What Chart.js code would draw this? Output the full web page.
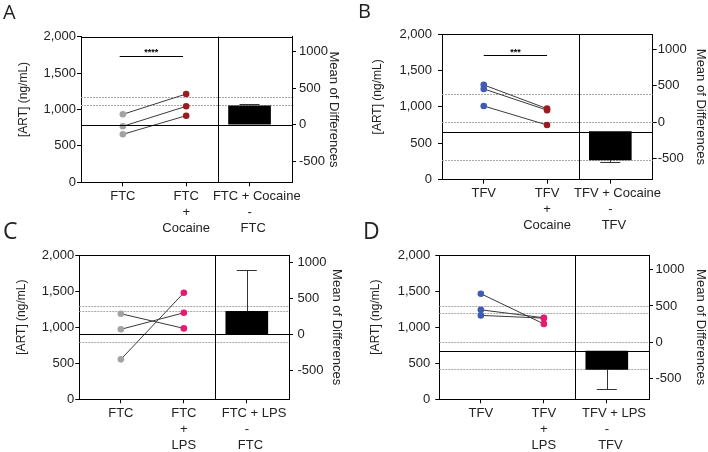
<!DOCTYPE html>
<html>
<head>
<meta charset="utf-8">
<script src="https://cdn.jsdelivr.net/npm/chart.js@4/dist/chart.umd.min.js"></script>
<style>
html, body { margin: 0; padding: 0; background: #fff; }
#wrap { position: relative; width: 708px; height: 452px; overflow: hidden; }
canvas { position: absolute; }
.tag { position: absolute; font-family: "Open Sans", sans-serif; color: #222; line-height: 1; }
</style>
</head>
<body>
<div id="wrap">
  <canvas id="cA" width="354" height="240" style="left:0;top:0"></canvas>
  <canvas id="cB" width="354" height="240" style="left:354px;top:0"></canvas>
  <canvas id="cC" width="354" height="226" style="left:0;top:226px"></canvas>
  <canvas id="cD" width="354" height="226" style="left:354px;top:226px"></canvas>
  <div class="tag" style="left:3px;top:2px;font-size:20px">A</div>
  <div class="tag" style="left:358px;top:1px;font-size:20px">B</div>
  <div class="tag" style="left:3px;top:219px;font-size:23px">C</div>
  <div class="tag" style="left:363px;top:219px;font-size:23px">D</div>
</div>
<script>
// 資料 start↓↓------------------------------------
const xTicks = [1, 2, 3];//左組, 右組, 差值
const leftTicks = [0, 500, 1000, 1500, 2000];
const rightTicks = [-500, 0, 500, 1000];

// A: FTC vs FTC + Cocaine
const aLabels = ['FTC', ['FTC', '+', 'Cocaine'], ['    FTC + Cocaine', '-', '  FTC']];
const aFirst = [934, 769, 659];
const aSecond = [1213, 1044, 915];
const aZero = 791;//右軸 0 對應的左軸值
const aBar = [0, 261];//平均差 (右軸)
const aErr = 280;
const aRefs = [1176, 1058];
const aSig = ['****', 1735];
const aSigX = [0.95, 1.95];

// B: TFV vs TFV + Cocaine
const bLabels = ['TFV', ['TFV', '+', 'Cocaine'], ['    TFV + Cocaine', '-', '  TFV']];
const bFirst = [1301, 1246, 1012];
const bSecond = [975, 955, 751];
const bZero = 788;
const bBar = [-129, -517];
const bErr = -549;
const bRefs = [1181, 788, 271];
const bSig = ['***', 1709];
const bSigX = [1, 2];

// C: FTC vs FTC + LPS
const cLabels = ['FTC', ['FTC', '+', 'LPS'], ['    FTC + LPS', '-', '  FTC']];
const cFirst = [1186, 970, 554];
const cSecond = [983, 1199, 1476];
const cZero = 900;
const cBar = [0, 319];
const cErr = 887;
const cRefs = [1296, 1219, 789];

// D: TFV vs TFV + LPS
const dLabels = ['TFV', ['TFV', '+', 'LPS'], ['    TFV + LPS', '-', '  TFV']];
const dFirst = [1463, 1240, 1163];
const dSecond = [1045, 1130, 1125];
const dZero = 794;
const dBar = [-125, -379];
const dErr = -655;
const dRefs = [1292, 1195, 794, 415];
// 資料 end↑↑------------------------------------

const gray = '#a3a3a3', darkRed = '#9b1b1f', blue = '#3f5bb3', pink = '#e8196f';

Chart.defaults.font.family = '"Liberation Sans", Arial, sans-serif';
Chart.defaults.color = '#222';

function hline(ctx, x0, x1, y) {
    y = Math.round(y) + 0.5;
    ctx.beginPath(); ctx.moveTo(x0, y); ctx.lineTo(x1, y); ctx.stroke();
}
function vline(ctx, x, y0, y1) {
    x = Math.round(x) + 0.5;
    ctx.beginPath(); ctx.moveTo(x, y0); ctx.lineTo(x, y1); ctx.stroke();
}

//參考線、分隔線、誤差線、顯著性
function extrasFor(p) {
    return {
        id: 'extras',
        beforeDatasetsDraw(chart) {
            const { ctx, chartArea: a, scales } = chart;
            ctx.save();
            ctx.lineWidth = 1;
            ctx.strokeStyle = '#a8a8a8';
            ctx.setLineDash([2, 1]);
            p.refs.forEach(v => hline(ctx, a.left, a.right, scales.y.getPixelForValue(v)));
            ctx.setLineDash([]);
            ctx.strokeStyle = '#000';
            hline(ctx, a.left, a.right, a.top);
            vline(ctx, scales.x.getPixelForValue(2.5), a.top, a.bottom);
            ctx.restore();
        },
        afterDatasetsDraw(chart) {
            const { ctx, chartArea: a, scales } = chart;
            const y2 = scales.y2, x = scales.x;
            ctx.save();
            ctx.lineWidth = 1;
            ctx.strokeStyle = '#000';
            hline(ctx, a.left, a.right, y2.getPixelForValue(p.bar[0]));
            //誤差線
            const px = x.getPixelForValue(3);
            const e1 = y2.getPixelForValue(p.err);
            ctx.strokeStyle = '#333';
            vline(ctx, px, y2.getPixelForValue(p.bar[1]), e1);
            hline(ctx, px - 10, px + 10, e1);
            //顯著性
            if (p.sig) {
                const sy = scales.y.getPixelForValue(p.sig[1]);
                ctx.strokeStyle = '#000';
                hline(ctx, x.getPixelForValue(p.sigX[0]), x.getPixelForValue(p.sigX[1]), sy);
                ctx.fillStyle = '#000';
                ctx.font = 'bold 9px "Liberation Sans", Arial, sans-serif';
                ctx.textAlign = 'center';
                ctx.textBaseline = 'middle';
                ctx.fillText(p.sig[0], x.getPixelForValue((p.sigX[0] + p.sigX[1]) / 2), sy - 3);
            }
            ctx.restore();
        }
    };
}

function makePanel(id, p, lay) {
    const datasets = p.first.map((v, i) => ({
        type: 'line',
        data: [{ x: 1, y: v }, { x: 2, y: p.second[i] }],
        yAxisID: 'y',
        borderColor: '#3a3a3a',
        borderWidth: 1,
        pointRadius: 3.3,
        pointBorderWidth: 0,
        pointBackgroundColor: p.colors,
        pointBorderColor: p.colors,
    }));
    datasets.push({
        type: 'bar',
        data: [{ x: 3, y: p.bar }],
        yAxisID: 'y2',
        backgroundColor: '#000',
        borderWidth: 0,
        barThickness: 42,
    });

    const tickFont = { size: 13, lineHeight: 1.23 };
    new Chart(document.getElementById(id), {
        type: 'line',
        data: { datasets },
        options: {
            responsive: false,
            animation: false,
            devicePixelRatio: 1,
            layout: { padding: { left: lay.pL, right: lay.pR, top: lay.pT, bottom: 0 } },
            plugins: { legend: { display: false }, tooltip: { enabled: false } },
            scales: {
                x: {
                    type: 'linear',
                    min: 0.34,
                    max: 3.67,
                    offset: false,
                    afterBuildTicks: s => { s.ticks = xTicks.map(v => ({ value: v })); },
                    afterFit: s => { s.height = lay.hB; s.paddingLeft = 0; s.paddingRight = 0; },
                    ticks: {
                        autoSkip: false, maxRotation: 0, minRotation: 0, padding: 2,
                        font: tickFont, color: '#222',
                        callback: (v, i) => p.labels[i],
                    },
                    grid: { drawOnChartArea: false, drawTicks: true, tickLength: 4, color: '#000', offset: false },
                    border: { display: true, color: '#000', width: 1 },
                },
                y: {
                    position: 'left',
                    min: 0,
                    max: 2000,
                    afterBuildTicks: s => { s.ticks = leftTicks.map(v => ({ value: v })); },
                    afterFit: s => { s.width = lay.wL; },
                    ticks: {
                        padding: lay.lPad, font: tickFont, color: '#222',
                        callback: v => v.toLocaleString('en-US'),
                    },
                    grid: { drawOnChartArea: false, drawTicks: true, tickLength: 4, color: '#000' },
                    border: { display: true, color: '#000', width: 1 },
                    title: {
                        display: true, text: '      [ART] (ng/mL)', padding: 0,
                        font: { size: 12, lineHeight: 1 }, color: '#222',
                    },
                },
                y2: {
                    position: 'right',
                    min: -p.zero,
                    max: 2000 - p.zero,
                    afterBuildTicks: s => { s.ticks = rightTicks.map(v => ({ value: v })); },
                    afterFit: s => { s.width = lay.wR; },
                    ticks: {
                        padding: lay.rPad, font: tickFont, color: '#222',
                        callback: v => String(v),
                    },
                    grid: { drawOnChartArea: false, drawTicks: true, tickLength: 4, color: '#000' },
                    border: { display: true, color: '#000', width: 1 },
                    title: {
                        display: true, text: 'Mean of Differences', padding: 0,
                        font: { size: 13, lineHeight: 1 }, color: '#222',
                    },
                },
            },
        },
        plugins: [extrasFor(p)],
    });
}

makePanel('cA',
    { labels: aLabels, first: aFirst, second: aSecond, zero: aZero, bar: aBar, err: aErr, refs: aRefs, sig: aSig, sigX: aSigX, colors: [gray, darkRed] },
    { pL: 17.3, wL: 63.7, pR: 14.2, wR: 47.8, pT: 36.7, hB: 57.7, lPad: 1, rPad: 3 });
makePanel('cB',
    { labels: bLabels, first: bFirst, second: bSecond, zero: bZero, bar: bBar, err: bErr, refs: bRefs, sig: bSig, sigX: bSigX, colors: [blue, darkRed] },
    { pL: 17.3, wL: 70.7, pR: 0.8, wR: 54.5, pT: 34, hB: 60.3, lPad: 6, rPad: 1 });
makePanel('cC',
    { labels: cLabels, first: cFirst, second: cSecond, zero: cZero, bar: cBar, err: cErr, refs: cRefs, colors: [gray, pink] },
    { pL: 15.7, wL: 63.6, pR: 10.8, wR: 54.2, pT: 29, hB: 52.7, lPad: 1, rPad: 4.5 });
makePanel('cD',
    { labels: dLabels, first: dFirst, second: dSecond, zero: dZero, bar: dBar, err: dErr, refs: dRefs, colors: [blue, pink] },
    { pL: 15.7, wL: 69.6, pR: 0.8, wR: 58.2, pT: 29, hB: 52.7, lPad: 5, rPad: 2.5 });
</script>
</body>
</html>
